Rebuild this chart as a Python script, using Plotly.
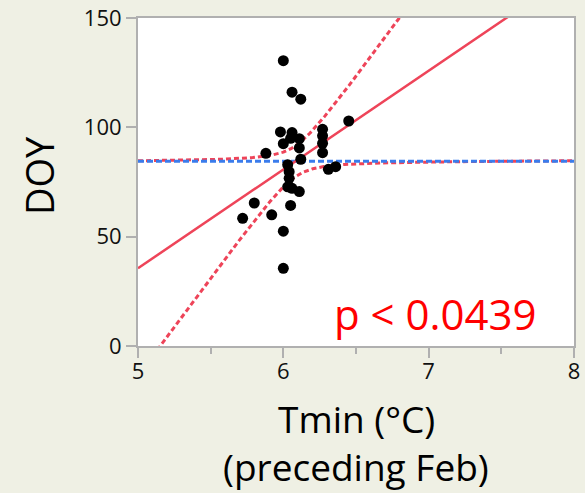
import numpy as np
import plotly.graph_objects as go

# Data
tmin_feb = [6.00, 6.06, 6.12, 6.45, 5.98, 6.06, 6.05, 6.11, 6.00, 6.11,
            6.27, 6.27, 6.27, 6.27, 5.88, 6.12, 6.03, 6.04, 6.04, 6.03,
            6.06, 6.11, 6.31, 6.36, 5.80, 5.72, 5.92, 6.05, 6.00, 6.00]
doy = [130.5, 116.1, 112.9, 102.9, 97.9, 97.6, 95.0, 94.8, 92.5, 90.6,
       99.1, 96.1, 92.7, 88.4, 88.1, 85.4, 82.9, 79.7, 76.7, 72.8,
       72.1, 70.6, 80.8, 82.0, 65.4, 58.4, 60.0, 64.3, 52.5, 35.5]
x_ticks = [5, 6, 7, 8]
y_ticks = [0, 50, 100, 150]
p_label = "p < 0.0439"

RED = "#ee4459"
BLUE = "#3a7cec"

# Linear fit computed from the data
x = np.array(tmin_feb)
y = np.array(doy)
n = len(x)
xbar, ybar = x.mean(), y.mean()
sxx = np.sum((x - xbar) ** 2)
slope = np.sum((x - xbar) * (y - ybar)) / sxx
intercept = ybar - slope * xbar
resid = y - (intercept + slope * x)
s = np.sqrt(np.sum(resid ** 2) / (n - 2))
df = n - 2
z = 1.959964
tq = z + (z**3 + z) / (4 * df) + (5 * z**5 + 16 * z**3 + 3 * z) / (96 * df**2)

xg = np.linspace(x_ticks[0], x_ticks[-1], 400)
yfit = intercept + slope * xg
half = tq * s * np.sqrt(1.0 / n + (xg - xbar) ** 2 / sxx)

fig = go.Figure()
fig.add_trace(go.Scatter(x=xg, y=yfit - half, mode="lines",
                         line=dict(color=RED, width=3, dash="5px,3px"), hoverinfo="skip"))
fig.add_trace(go.Scatter(x=xg, y=yfit + half, mode="lines",
                         line=dict(color=RED, width=3, dash="5px,3px"), hoverinfo="skip"))
fig.add_trace(go.Scatter(x=[x_ticks[0], x_ticks[-1]], y=[ybar, ybar], mode="lines",
                         line=dict(color=BLUE, width=3, dash="6px,3px"), hoverinfo="skip"))
fig.add_trace(go.Scatter(x=xg, y=yfit, mode="lines",
                         line=dict(color=RED, width=2.5), hoverinfo="skip"))
fig.add_trace(go.Scatter(x=tmin_feb, y=doy, mode="markers",
                         marker=dict(color="black", size=11)))

axis_common = dict(
    showgrid=False, zeroline=False, showline=True, mirror=True,
    linecolor="#b0b0b0", linewidth=2, ticks="outside", ticklen=10,
    tickcolor="#b0b0b0", tickwidth=1.5, automargin=False,
    tickfont=dict(family="Open Sans", size=22, color="#111111"),
)
fig.update_xaxes(range=[x_ticks[0], x_ticks[-1]], tickvals=x_ticks,
                 ticklabelstandoff=-5,
                 minor=dict(dtick=0.5, ticks="outside", ticklen=6,
                            tickcolor="#b0b0b0", tickwidth=1.5),
                 **axis_common)
fig.update_yaxes(range=[y_ticks[0], y_ticks[-1]], tickvals=y_ticks, **axis_common)

fig.update_layout(
    width=585, height=493,
    margin=dict(l=138, r=11, t=18, b=147),
    paper_bgcolor="#eff0e4", plot_bgcolor="white",
    showlegend=False,
    annotations=[
        dict(text="DOY", xref="paper", yref="paper", x=-0.227, y=0.518,
             textangle=-90, showarrow=False, xanchor="center", yanchor="middle",
             font=dict(family="Open Sans", size=38, color="black")),
        dict(text="Tmin (°C)", xref="paper", yref="paper", x=0.5, y=-0.222,
             showarrow=False, xanchor="center", yanchor="middle",
             font=dict(family="Open Sans", size=37, color="black")),
        dict(text="(preceding Feb)", xref="paper", yref="paper", x=0.5, y=-0.366,
             showarrow=False, xanchor="center", yanchor="middle",
             font=dict(family="Open Sans", size=37, color="black")),
        dict(text=p_label, xref="paper", yref="paper", x=0.683, y=0.10,
             showarrow=False, xanchor="center", yanchor="middle",
             font=dict(family="Open Sans", size=42, color="#ff0000")),
    ],
)

fig.write_html("out.html")
